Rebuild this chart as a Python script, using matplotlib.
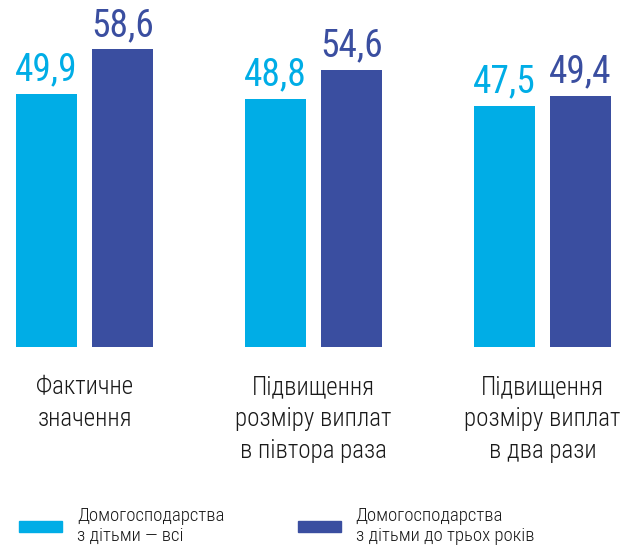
import matplotlib.pyplot as plt
import numpy as np
from matplotlib.patches import Patch
from matplotlib.transforms import blended_transform_factory

categories = ['Фактичне\nзначення',
              'Підвищення\nрозміру виплат\nв півтора раза',
              'Підвищення\nрозміру виплат\nв два рази']
all_hh = [49.9, 48.8, 47.5]
young_hh = [58.6, 54.6, 49.4]
series_names = ['Домогосподарства\nз дітьми — всі',
                'Домогосподарства\nз дітьми до трьох років']

light = '#00ADE6'
dark = '#3A4EA0'
font = ['Roboto Condensed', 'DejaVu Sans']

fig = plt.figure(figsize=(6.28, 5.47), dpi=100)
ax = fig.add_axes([0, 200 / 547, 1, 330 / 547])

x = np.arange(len(categories))
w = 0.266
off = 0.166
b1 = ax.bar(x - off, all_hh, w, color=light)
b2 = ax.bar(x + off, young_hh, w, color=dark)

def fmt(v):
    return f'{v:.1f}'.replace('.', ',')

for bars, vals, c in [(b1, all_hh, light), (b2, young_hh, dark)]:
    for b, v in zip(bars, vals):
        ax.annotate(fmt(v), (b.get_x() + b.get_width() / 2, v),
                    xytext=(0, 4), textcoords='offset points',
                    ha='center', va='bottom', color=c,
                    fontsize=27, family=font)

ax.set_xlim(-84.5 / 229, (628 - 84.5) / 229)
ax.set_ylim(0, 65)
ax.axis('off')

tr = blended_transform_factory(ax.transData, fig.transFigure)
for xi, lab in zip(x, categories):
    ax.text(xi, 1 - 375 / 547, lab, transform=tr, ha='center', va='top',
            fontsize=18, family=font, weight='light', color='#1a1a1a',
            linespacing=1.42)

handles = [Patch(color=light), Patch(color=dark)]
fig.legend(handles, series_names, loc='center left',
           bbox_to_anchor=(19 / 628, 21 / 547), ncol=2, frameon=False,
           prop={'family': font, 'size': 13.5, 'weight': 'light'},
           handlelength=2.3, handleheight=0.48, handletextpad=0.8,
           columnspacing=3.9, borderpad=0, borderaxespad=0,
           labelspacing=0.3, labelcolor='#1a1a1a')

plt.savefig('out.png', dpi=100)
